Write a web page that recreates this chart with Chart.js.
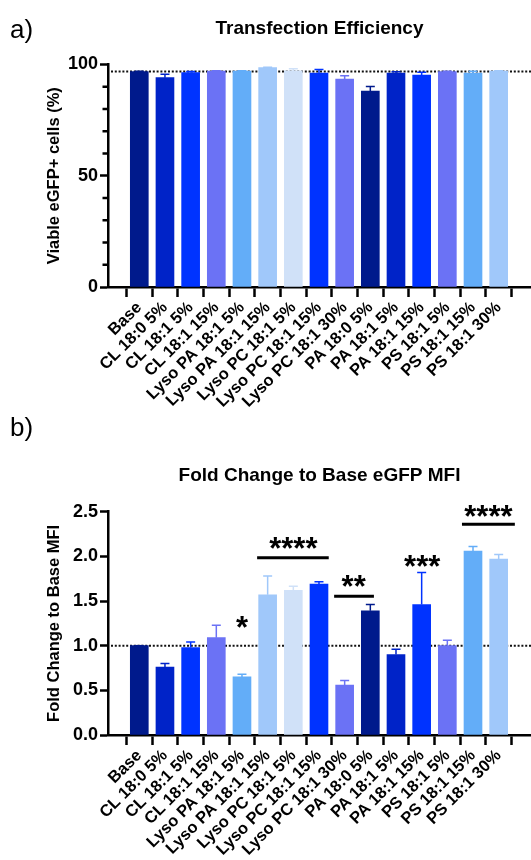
<!DOCTYPE html>
<html>
<head>
<meta charset="utf-8">
<script src="https://cdn.jsdelivr.net/npm/chart.js@4.4.0/dist/chart.umd.min.js"></script>
<style>
  html, body { margin: 0; padding: 0; background: #fff; overflow: hidden; }
  body { width: 531px; height: 860px; position: relative; font-family: "Liberation Sans", Arial, sans-serif; }
  .panel { position: absolute; left: 0; width: 531px; height: 430px; }
  .tag { position: absolute; left: 10px; font-size: 26px; line-height: 30px; color: #000; z-index: 2; }
</style>
</head>
<body>
<div class="panel" style="top:0"><canvas id="effChart" width="531" height="430"></canvas></div>
<div class="panel" style="top:430px"><canvas id="mfiChart" width="531" height="430"></canvas></div>
<div class="tag" style="top:14px">a)</div>
<div class="tag" style="top:412px">b)</div>
<script>
// groups on the x axis (same for both panels)
const groups = ['Base', 'CL 18:0 5%', 'CL 18:1 5%', 'CL 18:1 15%', 'Lyso PA 18:1 5%',
  'Lyso PA 18:1 15%', 'Lyso PC 18:1 5%', 'Lyso PC 18:1 15%', 'Lyso PC 18:1 30%',
  'PA 18:0 5%', 'PA 18:1 5%', 'PA 18:1 15%', 'PS 18:1 5%', 'PS 18:1 15%', 'PS 18:1 30%'];
const barColors = ['#001a8c', '#0023c8', '#0033ff', '#6b72f5', '#63adf8', '#a0c8fa', '#d0e1f8',
  '#0033ff', '#6b72f5', '#001a8c', '#0023c8', '#0033ff', '#6b72f5', '#63adf8', '#a0c8fa'];

// a) transfection efficiency
const viable = [96.8, 94.1, 96.4, 97.0, 97.0, 98.6, 97.1, 96.1, 93.4, 88.1, 96.1, 95.2, 96.8, 96.1, 97.0];
const viableErr = [0.2, 1.5, 0.4, 0.2, 0.2, 0.2, 1.0, 1.6, 1.5, 2.0, 0.6, 1.3, 0.2, 0.9, 0.2];

// b) fold change of eGFP MFI vs base
const foldChange = [1.00, 0.76, 0.98, 1.09, 0.65, 1.57, 1.62, 1.69, 0.56, 1.39, 0.90, 1.46, 1.00, 2.06, 1.97];
const foldErr = [0.0, 0.04, 0.06, 0.14, 0.03, 0.21, 0.045, 0.025, 0.05, 0.07, 0.06, 0.36, 0.06, 0.05, 0.05];

// significance marks for b)
const sigText = ['*', '****', '**', '***', '****'];
const sigTextX = [4.0, 6.0, 8.35, 11.02, 13.6];
const sigTextY = [1.26, 2.15, 1.72, 1.95, 2.51];
const sigLineFrom = [null, 4.59, 7.59, null, 12.57];
const sigLineTo = [null, 7.38, 9.14, null, 14.63];
const sigLineY = [null, 1.985, 1.553, null, 2.36];

Chart.defaults.font.family = '"Liberation Sans", Arial, sans-serif';
Chart.defaults.font.weight = 'bold';
Chart.defaults.color = '#000';

function refLine(value) {
  return {
    id: 'refLine',
    beforeDatasetsDraw(chart) {
      const { ctx, chartArea, scales: { y } } = chart;
      const py = y.getPixelForValue(value);
      ctx.save();
      ctx.strokeStyle = '#111';
      ctx.lineWidth = 2;
      ctx.setLineDash([2, 1.8]);
      ctx.beginPath();
      ctx.moveTo(chartArea.left + 3, py);
      ctx.lineTo(chartArea.right, py);
      ctx.stroke();
      ctx.restore();
    }
  };
}

function errorBars(values, errs) {
  return {
    id: 'errorBars',
    afterDatasetsDraw(chart) {
      const { ctx, scales: { x, y } } = chart;
      ctx.save();
      ctx.lineWidth = 1.5;
      values.forEach((v, i) => {
        const px = x.getPixelForValue(i);
        const base = y.getPixelForValue(v);
        const top = y.getPixelForValue(v + errs[i]);
        ctx.strokeStyle = barColors[i];
        ctx.beginPath();
        ctx.moveTo(px, base);
        ctx.lineTo(px, top);
        ctx.moveTo(px - 4.5, top);
        ctx.lineTo(px + 4.5, top);
        ctx.stroke();
      });
      ctx.restore();
    }
  };
}

// shorter minor ticks on the y axis (labelled ticks keep the long ones)
function minorTicks(labelEvery) {
  return {
    id: 'minorTicks',
    afterDraw(chart) {
      const { ctx, scales: { y } } = chart;
      ctx.save();
      ctx.strokeStyle = '#000';
      ctx.lineWidth = 2.5;
      y.ticks.forEach(t => {
        if (t.value % labelEvery === 0) return;
        const py = y.getPixelForValue(t.value);
        ctx.beginPath();
        ctx.moveTo(y.right - 5.5, py);
        ctx.lineTo(y.right, py);
        ctx.stroke();
      });
      ctx.restore();
    }
  };
}

const sigMarks = {
  id: 'sigMarks',
  afterDraw(chart) {
    const { ctx, scales: { x, y } } = chart;
    ctx.save();
    ctx.fillStyle = '#000';
    ctx.strokeStyle = '#000';
    ctx.lineWidth = 3;
    ctx.font = 'bold 31px "Liberation Sans", Arial, sans-serif';
    ctx.textAlign = 'center';
    ctx.textBaseline = 'alphabetic';
    sigText.forEach((t, i) => {
      const m = ctx.measureText(t);
      const cy = y.getPixelForValue(sigTextY[i]);
      ctx.fillText(t, x.getPixelForValue(sigTextX[i]), cy + (m.actualBoundingBoxAscent - m.actualBoundingBoxDescent) / 2);
      if (sigLineY[i] !== null) {
        const ly = y.getPixelForValue(sigLineY[i]);
        ctx.beginPath();
        ctx.moveTo(x.getPixelForValue(sigLineFrom[i]), ly);
        ctx.lineTo(x.getPixelForValue(sigLineTo[i]), ly);
        ctx.stroke();
      }
    });
    ctx.restore();
  }
};

function makeChart(id, values, errs, cfg) {
  return new Chart(document.getElementById(id), {
    type: 'bar',
    data: {
      datasets: [{
        data: values.map((v, i) => ({ x: i, y: v })),
        backgroundColor: barColors,
        borderWidth: 0,
        barThickness: 18
      }]
    },
    options: {
      responsive: false,
      animation: false,
      layout: { padding: 0 },
      plugins: {
        legend: { display: false },
        tooltip: { enabled: false },
        title: {
          display: true,
          text: cfg.title,
          fullSize: false,
          font: { size: 19, weight: 'bold' },
          color: '#000',
          padding: cfg.titlePad
        }
      },
      scales: {
        x: {
          type: 'linear',
          min: -0.67,
          max: 14.71,
          afterBuildTicks: s => { s.ticks = groups.map((g, i) => ({ value: i })); },
          afterFit: s => { s.height = cfg.xHeight; },
          ticks: {
            autoSkip: false,
            minRotation: 45,
            maxRotation: 45,
            padding: 1,
            color: '#000',
            font: { size: 16.5, weight: 'bold' },
            callback: v => groups[v]
          },
          grid: { drawOnChartArea: false, drawTicks: true, tickLength: 10, tickWidth: 2.5, tickColor: '#000' },
          border: { display: true, color: '#000', width: 2.5 }
        },
        y: {
          min: cfg.yMin,
          max: cfg.yMax,
          afterFit: s => { s.width = 108; },
          ticks: {
            autoSkip: false,
            stepSize: cfg.yStep,
            padding: 2,
            color: '#000',
            font: { size: 18, weight: 'bold' },
            callback: cfg.yLabel
          },
          title: {
            display: true,
            text: cfg.yTitle,
            color: '#000',
            font: { size: 16.5, weight: 'bold' },
            padding: { top: 45, bottom: 0 }
          },
          grid: {
            drawOnChartArea: false,
            drawTicks: true,
            tickLength: 8,
            tickWidth: 2.5,
            tickColor: c => (cfg.labelEvery && c.tick && c.tick.value % cfg.labelEvery !== 0 ? 'rgba(0,0,0,0)' : '#000')
          },
          border: { display: true, color: '#000', width: 2.5 }
        }
      }
    },
    plugins: [refLine(values[0]), errorBars(values, errs)].concat(cfg.extra || [])
  });
}

makeChart('effChart', viable, viableErr, {
  title: 'Transfection Efficiency',
  titlePad: { top: 17.4, bottom: 24.3 },
  xHeight: 143,
  yMin: 0, yMax: 100, yStep: 10,
  labelEvery: 50,
  yLabel: v => (v % 50 === 0 ? v : ''),
  yTitle: 'Viable eGFP+ cells (%)',
  extra: [minorTicks(50)]
});

makeChart('mfiChart', foldChange, foldErr, {
  title: 'Fold Change to Base eGFP MFI',
  titlePad: { top: 34.2, bottom: 24.7 },
  xHeight: 125,
  yMin: 0, yMax: 2.5, yStep: 0.5,
  yLabel: v => v.toFixed(1),
  yTitle: 'Fold Change to Base MFI',
  extra: [sigMarks]
});
</script>
</body>
</html>
